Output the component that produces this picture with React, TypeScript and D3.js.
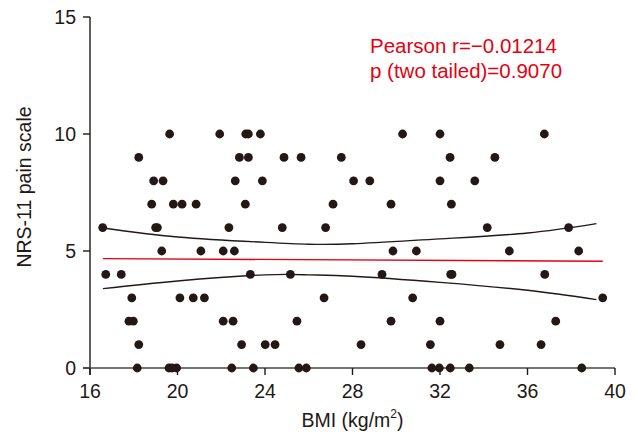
import React from "react";
import * as d3 from "d3";

// NRS-11 pain score levels and the BMI values observed at each level
const painLevels = [0, 1, 2, 3, 4, 5, 6, 7, 8, 9, 10];
const bmiAtPain0 = [18.16, 19.61, 19.75, 19.96, 22.48, 23.47, 25.55, 25.89, 31.63, 31.97, 32.47, 33.34, 38.48];
const bmiAtPain1 = [18.23, 22.93, 24.01, 24.46, 28.39, 31.56, 34.74, 36.62];
const bmiAtPain2 = [17.78, 17.98, 22.09, 22.54, 25.46, 29.76, 32.0, 37.29];
const bmiAtPain3 = [17.91, 20.11, 20.72, 21.23, 26.7, 30.75, 39.44];
const bmiAtPain4 = [16.72, 17.43, 23.33, 25.16, 29.35, 32.49, 32.55, 36.79];
const bmiAtPain5 = [19.28, 21.07, 22.09, 22.6, 29.85, 30.92, 35.17, 38.34];
const bmiAtPain6 = [16.58, 19.0, 19.08, 22.35, 24.79, 26.77, 34.16, 37.88];
const bmiAtPain7 = [18.82, 19.81, 20.21, 20.85, 23.1, 27.11, 29.76, 32.52];
const bmiAtPain8 = [18.91, 19.34, 22.64, 23.88, 28.05, 28.79, 32.0, 33.59];
const bmiAtPain9 = [18.23, 22.83, 23.24, 24.87, 25.65, 27.49, 32.46, 34.51];
const bmiAtPain10 = [19.64, 21.93, 23.12, 23.24, 23.79, 30.29, 32.0, 36.77];
const bmiByPain = [
  bmiAtPain0, bmiAtPain1, bmiAtPain2, bmiAtPain3, bmiAtPain4, bmiAtPain5,
  bmiAtPain6, bmiAtPain7, bmiAtPain8, bmiAtPain9, bmiAtPain10,
];

// regression line and 95% confidence band
const fitBmi = [16.59, 39.44];
const fitPain = [4.675, 4.56];
const bandBmi = [16.59, 20, 24, 26, 28, 32, 36, 39.15];
const bandUpper = [5.98, 5.6, 5.37, 5.29, 5.31, 5.52, 5.77, 6.17];
const bandLower = [3.39, 3.72, 3.98, 3.98, 3.92, 3.66, 3.32, 2.92];

const xTicks = [16, 20, 24, 28, 32, 36, 40];
const yTicks = [0, 5, 10, 15];
const statLines = ["Pearson r=\u22120.01214", "p (two tailed)=0.9070"];

const W = 638;
const H = 439;
const FONT = "'Liberation Sans', Arial, Helvetica, sans-serif";
const INK = "#231815";
const RED = "#e60012";

export default function App() {
  const x = d3.scaleLinear().domain([16, 40]).range([90, 615]);
  const y = d3.scaleLinear().domain([0, 15]).range([368, 17]);

  const points = painLevels.flatMap((p, i) => bmiByPain[i].map((b) => ({ b, p })));

  const fitLine = d3
    .line<number>()
    .x((_, i) => x(fitBmi[i]))
    .y((d) => y(d))(fitPain);

  const bandLine = (vals: number[]) =>
    d3
      .line<number>()
      .x((_, i) => x(bandBmi[i]))
      .y((d) => y(d))
      .curve(d3.curveNatural)(vals);

  return (
    <svg
      width={W}
      height={H}
      style={{ position: "absolute", left: 0, top: 0, background: "#fff" }}
      fontFamily={FONT}
    >
      {/* y axis */}
      <line x1={x(16)} x2={x(16)} y1={y(15)} y2={y(0) + 7} stroke={INK} strokeWidth={1.4} />
      {yTicks.map((t) => (
        <g key={"yt" + t}>
          <line x1={x(16) - 7} x2={x(16)} y1={y(t)} y2={y(t)} stroke={INK} strokeWidth={1.4} />
          <text x={76} y={y(t)} dy="0.35em" textAnchor="end" fontSize={19.5} fill={INK}>
            {t}
          </text>
        </g>
      ))}
      {/* x axis */}
      <line x1={x(16) - 7} x2={x(40)} y1={y(0)} y2={y(0)} stroke="#4a4545" strokeWidth={1.4} />
      {xTicks.map((t) => (
        <g key={"xt" + t}>
          <line x1={x(t)} x2={x(t)} y1={y(0)} y2={y(0) + 7} stroke={INK} strokeWidth={1.4} />
          <text x={x(t)} y={398} textAnchor="middle" fontSize={19.5} fill={INK}>
            {t}
          </text>
        </g>
      ))}

      {/* axis titles */}
      <text x={(x(16) + x(40)) / 2} y={427} textAnchor="middle" fontSize={19.5} fill={INK}>
        BMI (kg/m
        <tspan fontSize={12} dy={-9}>2</tspan>
        <tspan dy={9}>)</tspan>
      </text>
      <text
        transform={`translate(31,187) rotate(-90)`}
        textAnchor="middle"
        fontSize={19.5}
        fill={INK}
      >
        NRS-11 pain scale
      </text>

      {/* points */}
      {points.map((d, i) => (
        <circle key={i} cx={x(d.b)} cy={y(d.p)} r={4.4} fill={INK} />
      ))}

      {/* confidence band */}
      <path d={bandLine(bandUpper) || ""} fill="none" stroke={INK} strokeWidth={1.4} />
      <path d={bandLine(bandLower) || ""} fill="none" stroke={INK} strokeWidth={1.4} />
      {/* regression line */}
      <path d={fitLine || ""} fill="none" stroke={RED} strokeWidth={1.4} />

      {/* statistics */}
      {statLines.map((s, i) => (
        <text key={s} x={370} y={52.5 + i * 25.3} fontSize={20.5} fill={RED}>
          {s}
        </text>
      ))}
    </svg>
  );
}
